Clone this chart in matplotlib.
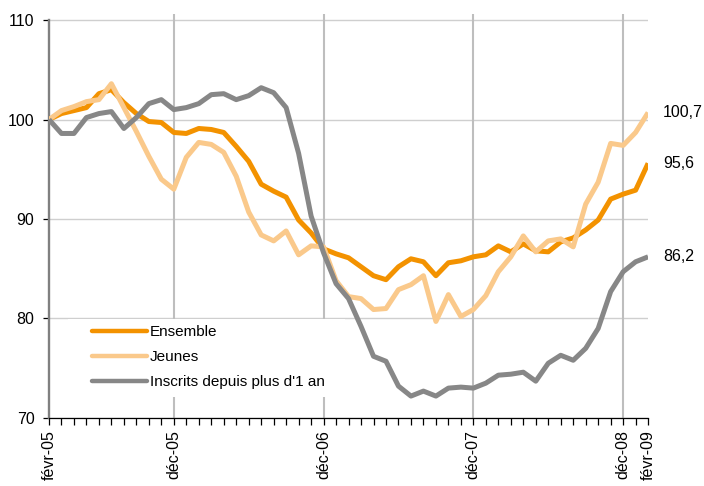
'''
Chômage : indices Ensemble / Jeunes / Inscrits depuis plus d'1 an,
base 100 en février 2005, série mensuelle jusqu'en février 2009.
'''

#==================================================================================================
# Import necessary libraries
#==================================================================================================
import matplotlib
matplotlib.use('Agg')
import matplotlib.pyplot as plt
from matplotlib.patches import Rectangle

#==================================================================================================
# Data (one value per month, févr-05 -> févr-09)
#==================================================================================================
ensemble = [100.0, 100.6, 100.9, 101.2, 102.6, 103.0, 101.7, 100.6, 99.8, 99.7,
            98.7, 98.6, 99.1, 99.0, 98.7, 97.3, 95.8, 93.5, 92.8, 92.2,
            89.9, 88.6, 87.0, 86.5, 86.1, 85.2, 84.3, 83.9, 85.2, 86.0,
            85.7, 84.3, 85.6, 85.8, 86.2, 86.4, 87.3, 86.7, 87.5, 86.8,
            86.7, 87.7, 88.1, 88.9, 89.9, 92.0, 92.5, 92.9, 95.6]

jeunes = [100.0, 100.9, 101.3, 101.8, 102.0, 103.6, 101.2, 98.8, 96.3, 94.0,
          93.0, 96.2, 97.7, 97.5, 96.7, 94.3, 90.7, 88.4, 87.8, 88.8,
          86.4, 87.3, 87.2, 83.8, 82.2, 82.0, 80.9, 81.0, 82.9, 83.4,
          84.3, 79.7, 82.4, 80.2, 80.9, 82.3, 84.7, 86.2, 88.3, 86.7,
          87.8, 88.0, 87.2, 91.5, 93.7, 97.6, 97.4, 98.7, 100.7]

longue_duree = [100.0, 98.6, 98.6, 100.2, 100.6, 100.8, 99.1, 100.2, 101.6, 102.0,
                101.0, 101.2, 101.6, 102.5, 102.6, 102.0, 102.4, 103.2, 102.7, 101.2,
                96.6, 90.3, 86.6, 83.5, 82.0, 79.2, 76.2, 75.7, 73.2, 72.2,
                72.7, 72.2, 73.0, 73.1, 73.0, 73.5, 74.3, 74.4, 74.6, 73.7,
                75.5, 76.3, 75.8, 77.0, 79.0, 82.7, 84.7, 85.7, 86.2]

series_labels = ['Ensemble', 'Jeunes', "Inscrits depuis plus d'1 an"]
end_labels = ['95,6', '100,7', '86,2']

# month index -> tick label
tick_months = [0, 10, 22, 34, 46, 48]
tick_labels = ['févr-05', 'déc-05', 'déc-06', 'déc-07', 'déc-08', 'févr-09']
grid_months = [10, 22, 34, 46]

y_ticks = [70, 80, 90, 100, 110]

colors = ['#F39200', '#FAC98B', '#878787']


#==================================================================================================
# Plot
#==================================================================================================
def main():
    plt.rcParams['font.family'] = ['Liberation Sans', 'DejaVu Sans']
    plt.rcParams['font.size'] = 11

    fig = plt.figure(figsize=(7.04, 4.86), dpi=100)
    ax = fig.add_axes([0.0696, 0.140, 0.851, 0.831])

    months = list(range(len(ensemble)))
    all_series = [ensemble, jeunes, longue_duree]

    for values, label, color in zip(all_series, series_labels, colors):
        ax.plot(months, values, color=color, lw=3.6, label=label, zorder=3,
                solid_capstyle='butt')

    # value labels at the right end
    for values, text in zip(all_series, end_labels):
        ax.annotate(text, xy=(months[-1], values[-1]), xytext=(15, 0),
                    textcoords='offset pixels', va='center', ha='left',
                    fontsize=11.5, annotation_clip=False)

    # axes limits and spines
    ax.set_xlim(0, months[-1])
    ax.set_ylim(70, 110.6)
    for side in ['top', 'right']:
        ax.spines[side].set_visible(False)
    ax.spines['left'].set_bounds(70, 110)
    ax.spines['left'].set_color('#808080')
    ax.spines['left'].set_linewidth(1.7)
    ax.spines['bottom'].set_color('black')
    ax.spines['bottom'].set_linewidth(0.9)

    # grid
    ax.set_axisbelow(True)
    ax.set_yticks(y_ticks)
    ax.yaxis.grid(True, color='#CFCFCF', lw=1.0)
    for m in grid_months:
        ax.axvline(m, color='#BEBEBE', lw=1.5, zorder=0.6)

    # ticks
    ax.set_xticks(tick_months)
    ax.set_xticklabels(tick_labels, rotation=90, ha='center', va='top')
    ax.set_xticks(months, minor=True)
    ax.tick_params(axis='x', which='both', direction='out', length=5, width=0.9,
                   color='black', pad=3.5, labelsize=11.5)
    ax.tick_params(axis='y', direction='out', length=4.5, width=0.9, color='black',
                   pad=6, labelsize=11.5)

    # white box behind the legend
    ax.add_patch(Rectangle((0.032, 0.052), 0.462, 0.193, transform=ax.transAxes,
                           facecolor='white', edgecolor='none', zorder=1))

    leg = ax.legend(loc='upper left', bbox_to_anchor=(0.0718, 0.230), frameon=False,
                    borderpad=0, borderaxespad=0, handlelength=3.6,
                    handletextpad=0.2, labelspacing=0.72, fontsize=11)
    for line in leg.get_lines():
        line.set_linewidth(3.2)
        line.set_solid_capstyle('round')

    plt.savefig('out.png', dpi=100)
    plt.close(fig)


if __name__ == "__main__":
    main()
